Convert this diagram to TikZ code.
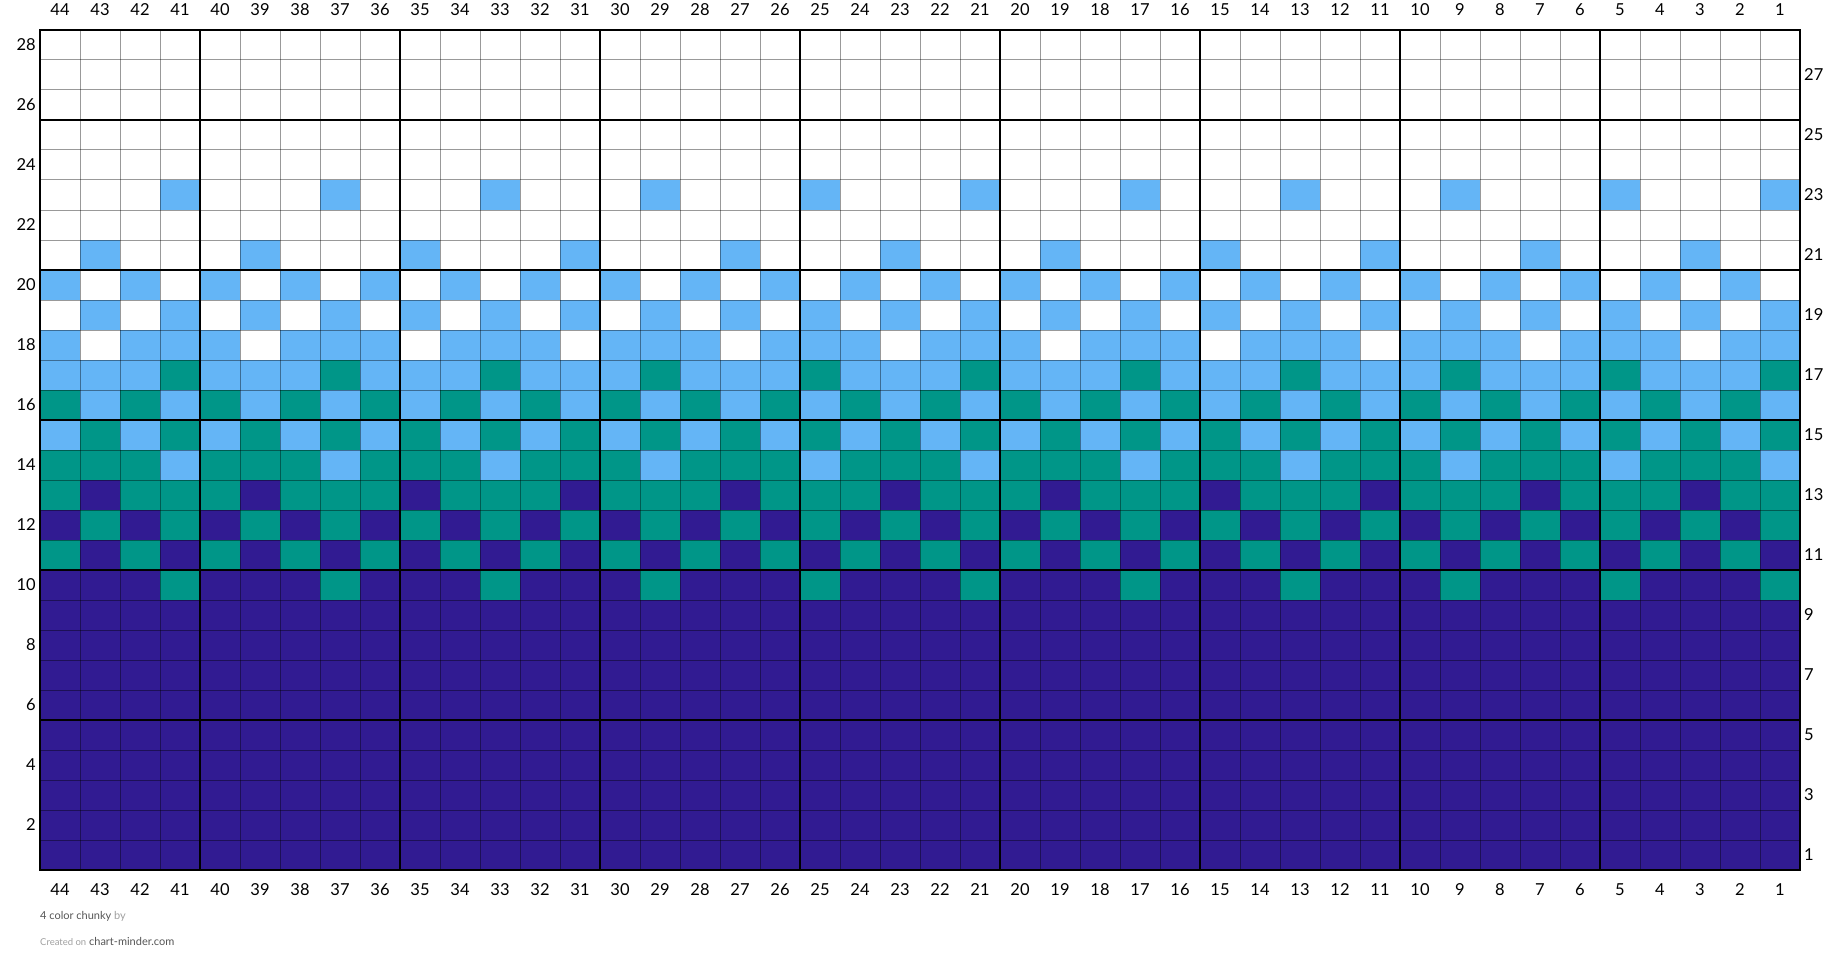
\documentclass[tikz,border=0pt]{standalone}
\usepackage{fontspec}
\setmainfont{Lato}
\definecolor{P}{HTML}{311B92}
\definecolor{T}{HTML}{009688}
\definecolor{B}{HTML}{64B5F6}
\definecolor{darktxt}{HTML}{555555}
\definecolor{lighttxt}{HTML}{A0A0A0}
\newcommand\stcell[3]{\fill[#3] ({40+(44-#2)*40},{870-#1*30}) rectangle ++(40,30);}
\tikzset{
  thinline/.style={draw=black, draw opacity=0.4, line width=1pt},
  thickline/.style={draw=black, line width=2pt},
  border/.style={draw=black, line width=2.6pt},
  numlbl/.style={font=\fontsize{16.5}{18}\selectfont, inner sep=0pt},
  foot/.style={font=\fontsize{11}{13}\selectfont, inner sep=0pt, anchor=base west}
}
\begin{document}
\begin{tikzpicture}[x=1pt,y=-1pt]
\useasboundingbox (0,0) rectangle (1840,963);
\fill[white] (0,0) rectangle (1840,963);
% base colour bands
\fill[P] (40,570) rectangle (1800,870);
\fill[T] (40,420) rectangle (1800,570);
\fill[B] (40,270) rectangle (1800,420);
% row 10
\foreach \s in {1,5,...,41} {\stcell{10}{\s}{T}}
% row 11
\foreach \s in {1,3,...,43} {\stcell{11}{\s}{P}}
% row 12
\foreach \s in {2,4,...,44} {\stcell{12}{\s}{P}}
% row 13
\foreach \s in {3,7,...,43} {\stcell{13}{\s}{P}}
% row 14
\foreach \s in {1,5,...,41} {\stcell{14}{\s}{B}}
% row 15
\foreach \s in {2,4,...,44} {\stcell{15}{\s}{B}}
% row 16
\foreach \s in {2,4,...,44} {\stcell{16}{\s}{T}}
% row 17
\foreach \s in {1,5,...,41} {\stcell{17}{\s}{T}}
% row 18
\foreach \s in {3,7,...,43} {\stcell{18}{\s}{white}}
% row 19
\foreach \s in {2,4,...,44} {\stcell{19}{\s}{white}}
% row 20
\foreach \s in {1,3,...,43} {\stcell{20}{\s}{white}}
% row 21
\foreach \s in {3,7,...,43} {\stcell{21}{\s}{B}}
% row 23
\foreach \s in {1,5,...,41} {\stcell{23}{\s}{B}}
% thin grid
\foreach \k in {1,...,43} {\draw[thinline] ({40+\k*40},30) -- ({40+\k*40},870);}
\foreach \k in {1,...,27} {\draw[thinline] (40,{30+\k*30}) -- (1800,{30+\k*30});}
% thick grid
\foreach \j in {1,...,8} {\draw[thickline] ({1800-\j*200},30) -- ({1800-\j*200},870);}
\foreach \j in {1,...,5} {\draw[thickline] (40,{870-\j*150}) -- (1800,{870-\j*150});}
\draw[border] (40,30) rectangle (1800,870);
% column labels
\foreach \s in {1,...,44} {
  \node[numlbl] (ct\s) at ({40+(44-\s)*40+20},10) {\s};
  \node[numlbl] (cb\s) at ({40+(44-\s)*40+20},890) {\s};
}
% row labels
\foreach \r in {2,4,...,28} {\node[numlbl, anchor=east] (rl\r) at (36,{870-\r*30+15}) {\r};}
\foreach \r in {1,3,...,27} {\node[numlbl, anchor=west] (rr\r) at (1804,{870-\r*30+15}) {\r};}
% footer
\node[foot] (f1) at (40,919) {\textcolor{darktxt}{4 color chunky} \textcolor{lighttxt}{by}};
\node[foot] (f2) at (40,945) {\textcolor{lighttxt}{\fontsize{9.5}{11}\selectfont Created on} \textcolor{darktxt}{chart-minder.com}};
\end{tikzpicture}
\end{document}
